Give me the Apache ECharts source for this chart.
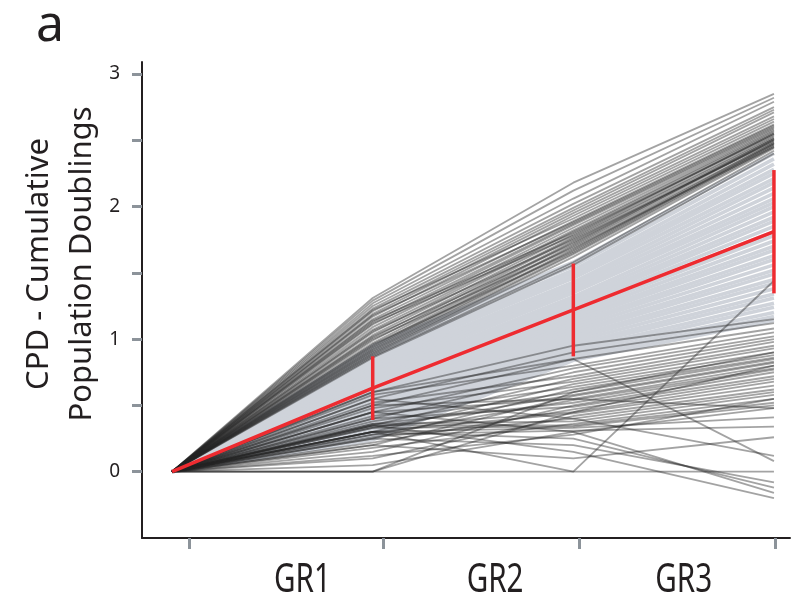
<html>
<head>
<meta charset="utf-8">
<title>CPD</title>
<script src="https://cdn.jsdelivr.net/npm/echarts@6/dist/echarts.min.js"></script>
<style>
body{margin:0;background:#fff;}
#main{width:802px;height:606px;}
</style>
</head>
<body>
<div id="main"></div>
<script type="text/javascript">
  // stages: 0 = start, 1..3 = GR1..GR3
  var stageNames = ['GR1', 'GR2', 'GR3'];

  // upper cluster of cell lines, CPD at GR1, GR2, GR3 (start is 0)
  var topLines = [
    [1.31, 2.18, 2.85], [1.29, 2.12, 2.82], [1.27, 2.06, 2.79], [1.25, 2.02, 2.75],
    [1.23, 1.99, 2.73], [1.21, 1.97, 2.71], [1.19, 1.95, 2.68], [1.17, 1.93, 2.66],
    [1.22, 1.91, 2.64], [1.15, 1.89, 2.62], [1.13, 1.87, 2.60], [1.11, 1.86, 2.59],
    [1.09, 1.84, 2.58], [1.07, 1.82, 2.57], [1.05, 1.81, 2.56], [1.03, 1.79, 2.55],
    [1.14, 1.80, 2.54], [1.01, 1.77, 2.53], [0.99, 1.76, 2.52], [0.97, 1.74, 2.51],
    [0.95, 1.73, 2.50], [0.94, 1.71, 2.50], [1.06, 1.75, 2.49], [0.93, 1.70, 2.48],
    [0.92, 1.68, 2.48], [0.91, 1.67, 2.47], [0.90, 1.65, 2.46], [0.89, 1.64, 2.45],
    [1.00, 1.69, 2.45], [0.88, 1.62, 2.44], [1.18, 1.88, 2.61], [1.12, 1.78, 2.55],
    [1.02, 1.72, 2.51], [0.96, 1.66, 2.47], [0.87, 1.58, 2.42], [0.86, 1.56, 2.40]
  ];

  // light middle band of cell lines
  var midLines = [
    [0.95, 1.58, 2.40], [0.93, 1.55, 2.36], [0.90, 1.52, 2.32], [0.88, 1.50, 2.28],
    [0.86, 1.48, 2.25], [0.84, 1.46, 2.21], [0.82, 1.43, 2.18], [0.80, 1.41, 2.14],
    [0.78, 1.39, 2.10], [0.76, 1.37, 2.06], [0.74, 1.35, 2.03], [0.72, 1.32, 2.00],
    [0.70, 1.30, 1.96], [0.68, 1.28, 1.92], [0.66, 1.26, 1.89], [0.64, 1.24, 1.85],
    [0.62, 1.22, 1.81], [0.60, 1.20, 1.78], [0.58, 1.18, 1.74], [0.56, 1.16, 1.70],
    [0.54, 1.14, 1.67], [0.52, 1.12, 1.63], [0.50, 1.10, 1.60], [0.48, 1.08, 1.56],
    [0.46, 1.06, 1.52], [0.44, 1.04, 1.49], [0.42, 1.02, 1.45], [0.40, 1.00, 1.42],
    [0.38, 0.98, 1.38], [0.36, 0.96, 1.34], [0.34, 0.94, 1.31], [0.32, 0.92, 1.27],
    [0.30, 0.90, 1.24], [0.28, 0.88, 1.20], [0.26, 0.86, 1.17], [0.24, 0.84, 1.14]
  ];

  // lower cluster of cell lines
  var lowLines = [
    [0.60, 0.95, 1.15], [0.55, 0.90, 1.12], [0.50, 0.85, 1.08], [0.58, 0.80, 1.05],
    [0.45, 0.78, 1.02], [0.40, 0.75, 1.00], [0.52, 0.72, 0.98], [0.35, 0.70, 0.95],
    [0.48, 0.68, 0.93], [0.30, 0.66, 0.90], [0.42, 0.64, 0.88], [0.25, 0.62, 0.86],
    [0.38, 0.60, 0.85], [0.33, 0.58, 0.83], [0.20, 0.57, 0.82], [0.45, 0.55, 0.80],
    [0.28, 0.54, 0.78], [0.36, 0.52, 0.77], [0.15, 0.50, 0.75], [0.40, 0.49, 0.72],
    [0.22, 0.47, 0.70], [0.34, 0.45, 0.68], [0.30, 0.44, 0.65], [0.10, 0.42, 0.62],
    [0.26, 0.40, 0.60], [0.36, 0.38, 0.58], [0.18, 0.36, 0.55], [0.35, 0.35, 0.52],
    [0.33, 0.34, 0.50], [0.05, 0.30, 0.48], [0.00, 0.60, 0.90], [0.00, 0.45, 0.80],
    [0.30, 0.33, 0.41], [0.28, 0.31, 0.34], [0.20, 0.10, 0.26], [0.55, 0.40, 0.12],
    [0.60, 0.85, 0.08], [0.00, 0.00, 0.00], [0.25, 0.20, -0.08], [0.30, 0.25, -0.12],
    [0.45, 0.30, -0.16], [0.35, 0.15, -0.20], [0.30, 0.00, 1.44], [0.50, 0.55, 0.48],
    [0.12, 0.28, 0.55]
  ];

  // mean and SD at start, GR1, GR2, GR3
  var meanCPD = [0, 0.63, 1.22, 1.81];
  var sdCPD = [0, 0.24, 0.35, 0.465];

  var xTicks = [0.085, 1.055, 2.03, 3.005];
  var xLabelAt = [0.65, 1.61, 2.55];

  var myChart = echarts.init(document.getElementById('main'));

  function toPoints(v) {
    return [[0, 0], [1, v[0]], [2, v[1]], [3, v[2]]];
  }

  var series = [];
  midLines.forEach(function (v) {
    series.push({
      type: 'line', data: toPoints(v), symbol: 'none', silent: true,
      lineStyle: { color: '#cfd3da', width: 3.6 }
    });
  });
  topLines.concat(lowLines).forEach(function (v) {
    series.push({
      type: 'line', data: toPoints(v), symbol: 'none', silent: true,
      lineStyle: { color: 'rgba(35,35,35,0.42)', width: 1.8 }
    });
  });
  series.push({
    type: 'line',
    data: meanCPD.map(function (m, i) { return [i, m]; }),
    symbol: 'none',
    lineStyle: { color: '#ee2b30', width: 3.5 },
    z: 5
  });
  series.push({
    type: 'custom',
    data: meanCPD.slice(1).map(function (m, i) {
      return [i + 1, m - sdCPD[i + 1], m + sdCPD[i + 1]];
    }),
    renderItem: function (params, api) {
      var p1 = api.coord([api.value(0), api.value(1)]);
      var p2 = api.coord([api.value(0), api.value(2)]);
      return {
        type: 'line',
        shape: { x1: p1[0], y1: p1[1], x2: p2[0], y2: p2[1] },
        style: { stroke: '#ee2b30', lineWidth: 3.5 }
      };
    },
    z: 6
  });

  var option = {
    animation: false,
    backgroundColor: '#fff',
    grid: { left: 142, right: 12, top: 62, bottom: 68 },
    xAxis: {
      type: 'value',
      min: -0.15,
      max: 3.08,
      splitLine: { show: false },
      axisLine: { onZero: false, lineStyle: { color: '#231f20', width: 2 } },
      axisTick: {
        customValues: xTicks,
        length: 11,
        lineStyle: { color: '#8c939a', width: 3 }
      },
      axisLabel: { show: false }
    },
    yAxis: {
      type: 'value',
      min: -0.5,
      max: 3.09,
      splitLine: { show: false },
      axisLine: { show: true, onZero: false, lineStyle: { color: '#231f20', width: 2 } },
      axisTick: {
        show: true,
        customValues: [0, 0.5, 1, 1.5, 2, 2.5, 3],
        length: 10,
        lineStyle: { color: '#8c939a', width: 3 }
      },
      axisLabel: {
        customValues: [0, 1, 2, 3],
        margin: 22,
        color: '#231f20',
        fontSize: 19,
        fontFamily: 'Noto Sans, sans-serif'
      }
    },
    graphic: [{
      type: 'text',
      left: 36, top: 2,
      style: { text: 'a', fontSize: 50, fontFamily: 'Noto Sans, sans-serif', fill: '#231f20' }
    }, {
      type: 'text',
      x: 61, y: 264,
      rotation: Math.PI / 2,
      style: {
        text: 'CPD - Cumulative\nPopulation Doublings',
        fontSize: 31,
        lineHeight: 43,
        fontFamily: 'Noto Sans, sans-serif',
        fill: '#231f20',
        align: 'center',
        verticalAlign: 'middle'
      }
    }],
    series: series
  };

  myChart.setOption(option);

  // stage labels sit between the ticks, in a condensed face
  var stageLabels = stageNames.map(function (name, i) {
    var p = myChart.convertToPixel({ xAxisIndex: 0, yAxisIndex: 0 }, [xLabelAt[i], -0.5]);
    return {
      type: 'text',
      x: p[0], y: p[1] + 43,
      scaleX: 0.74,
      style: {
        text: name,
        fontSize: 40,
        fontFamily: 'Noto Sans, sans-serif',
        fill: '#231f20',
        align: 'center',
        verticalAlign: 'middle'
      }
    };
  });
  myChart.setOption({ graphic: option.graphic.concat(stageLabels) });
</script>
</body>
</html>
